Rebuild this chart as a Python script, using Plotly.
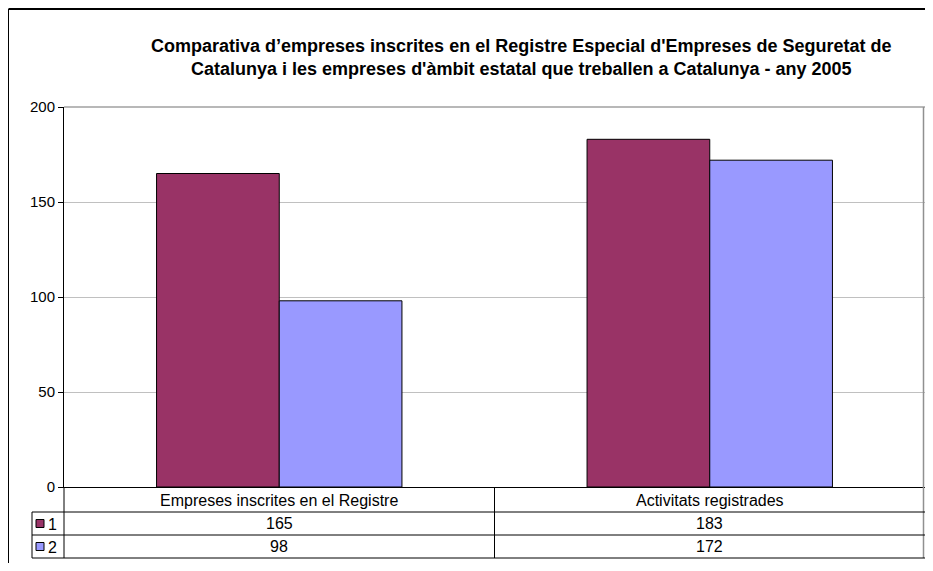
import plotly.graph_objects as go

categories = ["Empreses inscrites en el Registre", "Activitats registrades"]
series_names = ["1", "2"]
series1 = [165, 183]
series2 = [98, 172]
colors = ["#993366", "#9999FF"]
title_lines = ["Comparativa d’empreses inscrites en el Registre Especial d'Empreses de Seguretat de",
               "Catalunya i les empreses d'àmbit estatal que treballen a Catalunya - any 2005"]

FONT = "Liberation Sans, Arial, sans-serif"
OFF = 8  # page offset of the figure (body margin)
W, H = 933 - 2 * OFF, 571 - 2 * OFF
L, R, T, B = 56, 0, 99, 76
ph = H - T - B
pw = W - L - R

def py(p):  # p: page pixel y
    return (H - B - (p - OFF)) / ph

def px(p):  # p: page pixel x
    return ((p - OFF) - L) / pw

fig = go.Figure()
xs = list(range(len(categories)))
for name, vals, c in zip(series_names, [series1, series2], colors):
    fig.add_trace(go.Bar(x=xs, y=vals, name=name,
                         marker=dict(color=c, line=dict(color="black", width=1)),
                         hoverinfo="y"))

shapes = []
annotations = []
# plot area top / right border (gray)
shapes.append(dict(type="line", xref="paper", yref="paper", x0=0, x1=1, y0=1, y1=1,
                   line=dict(color="#a0a0a0", width=1.5)))
shapes.append(dict(type="line", xref="paper", yref="paper", x0=px(923.5), x1=px(923.5), y0=py(558), y1=1,
                   line=dict(color="#909090", width=1.5)))
# outer frame
shapes.append(dict(type="line", xref="paper", yref="paper", x0=px(8.5), x1=1.2, y0=py(9), y1=py(9),
                   line=dict(color="black", width=2)))
shapes.append(dict(type="line", xref="paper", yref="paper", x0=px(8.5), x1=px(8.5), y0=py(9), y1=-0.5,
                   line=dict(color="black", width=1)))

# data table lines
for yy in [512, 535, 558]:
    shapes.append(dict(type="line", xref="paper", yref="paper", x0=px(32), x1=1, y0=py(yy), y1=py(yy),
                       line=dict(color="black", width=1)))
shapes.append(dict(type="line", xref="paper", yref="paper", x0=px(32), x1=px(32), y0=py(512), y1=py(558),
                   line=dict(color="black", width=1)))
shapes.append(dict(type="line", xref="paper", yref="paper", x0=0, x1=0, y0=0, y1=py(558),
                   line=dict(color="black", width=1)))
shapes.append(dict(type="line", xref="x", yref="paper", x0=0.5, x1=0.5, y0=0, y1=py(558),
                   line=dict(color="black", width=1)))

TABLE_FONT = dict(family=FONT, size=16, color="black")
for i, cat in enumerate(categories):
    annotations.append(dict(x=i, xref="x", y=py(500), yref="paper", text=cat, showarrow=False,
                            font=TABLE_FONT, yanchor="middle"))
row_centers = [523.5, 546.5]
for rc, name, vals, c in zip(row_centers, series_names, [series1, series2], colors):
    for i, v in enumerate(vals):
        annotations.append(dict(x=i, xref="x", y=py(rc), yref="paper", text=str(v), showarrow=False,
                                font=TABLE_FONT, yanchor="middle"))
    shapes.append(dict(type="rect", xref="paper", yref="paper", x0=px(36), x1=px(44),
                       y0=py(rc + 4), y1=py(rc - 4), fillcolor=c, line=dict(color="black", width=1)))
    annotations.append(dict(x=px(46), xref="paper", y=py(rc + 1), yref="paper", text=name, showarrow=False,
                            xanchor="left", font=dict(family=FONT, size=16, color="black"), yanchor="middle"))

title_html = "<br>".join("<b>" + t + "</b>" for t in title_lines)
annotations.append(dict(x=px(521), xref="paper", y=py(57), yref="paper", text=title_html, showarrow=False,
                        font=dict(family=FONT, size=18, color="black"), yanchor="middle", xanchor="center"))

fig.update_layout(
    width=W, height=H,
    margin=dict(l=L, r=R, t=T, b=B, pad=0),
    paper_bgcolor="white", plot_bgcolor="white",
    barmode="group", bargap=0.43, bargroupgap=0,
    showlegend=False,
    font=dict(family=FONT, size=14, color="black"),
    xaxis=dict(range=[-0.5, 1.5], showticklabels=False, showgrid=False, zeroline=False,
               showline=True, linecolor="black", linewidth=1, ticks=""),
    yaxis=dict(range=[0, 200], tickvals=[0, 50, 100, 150, 200], showgrid=True, gridcolor="#c0c0c0",
               gridwidth=1, zeroline=False, showline=True, linecolor="black", linewidth=1,
               ticks="outside", ticklen=5, tickcolor="black",
               tickfont=dict(family=FONT, size=15, color="black")),
    shapes=shapes, annotations=annotations,
)

fig.write_html("out.html")
